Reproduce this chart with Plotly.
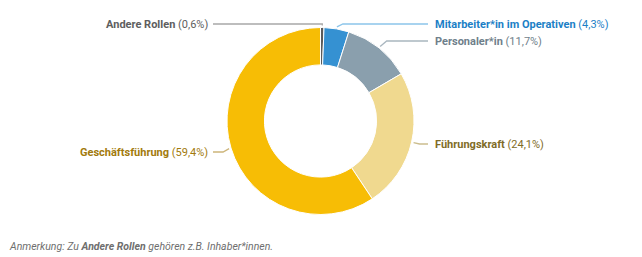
import math
import plotly.graph_objects as go

# ---- data ----
labels = ["Andere Rollen", "Mitarbeiter*in im Operativen", "Personaler*in", "Führungskraft", "Geschäftsführung"]
values = [0.6, 4.3, 11.7, 24.1, 59.4]
value_text = ["0,6%", "4,3%", "11,7%", "24,1%", "59,4%"]

# ---- styles ----
slice_colors = ["#5a5a5a", "#3591d2", "#8a9fad", "#f0d98f", "#f7bd05"]
label_colors = ["#5e5e5e", "#1c7fc6", "#6f7f8b", "#7f6c28", "#a27a0c"]
line_colors = ["#a8a8a8", "#8cc5ea", "#a9b6bf", "#cbbd8e", "#cdb57a"]
label_y_px = [24, 24, 41, 144, 152]   # label baseline-centre rows (pixels)
label_side = ["left", "right", "right", "right", "left"]

W, H = 642, 257
cx, cy, R = 320.5, 121.0, 93.5
label_x_right = 433
label_x_left_end = 210

def px(x):
    return x / W

def py(y):
    return 1 - y / H

fig = go.Figure()
fig.add_trace(go.Pie(
    labels=labels, values=values, hole=0.6, sort=False, direction="clockwise",
    rotation=0, marker=dict(colors=slice_colors, line=dict(color="white", width=1)),
    textinfo="none", hoverinfo="label+percent", showlegend=False,
    domain=dict(x=[px(cx - R), px(cx + R)], y=[py(cy + R), py(cy - R)]),
))

total = sum(values)
cum = 0.0
shapes = []
annotations = []
for i, v in enumerate(values):
    mid = (cum + v / 2) / total * 2 * math.pi
    cum += v
    r0 = R + 2
    sx = cx + r0 * math.sin(mid)
    sy = cy - r0 * math.cos(mid)
    ly = label_y_px[i]
    if label_side[i] == "right":
        ex = sx + max(6, abs(ly - sy) * 1.2) if abs(ly - sy) > 2 else sx + 6
        ex = min(ex, label_x_right - 8)
        endx = label_x_right - 5
    else:
        ex = sx - 6 if abs(ly - sy) > 2 else sx - 4
        if i == 0:
            ex = sx
        endx = label_x_left_end + 3
    path = f"M {px(sx)},{py(sy)} L {px(ex)},{py(ly)} L {px(endx)},{py(ly)}"
    shapes.append(dict(type="path", path=path, xref="paper", yref="paper",
                       line=dict(color=line_colors[i], width=1.3)))
    text = f"<b>{labels[i]}</b> ({value_text[i]})"
    if label_side[i] == "right":
        annotations.append(dict(x=px(label_x_right), y=py(ly), xref="paper", yref="paper",
                                text=text, showarrow=False, xanchor="left", yanchor="middle",
                                font=dict(family="Roboto", size=11, color=label_colors[i])))
    else:
        annotations.append(dict(x=px(label_x_left_end), y=py(ly), xref="paper", yref="paper",
                                text=text, showarrow=False, xanchor="right", yanchor="middle",
                                font=dict(family="Roboto", size=11, color=label_colors[i])))

annotations.append(dict(x=px(7), y=py(246), xref="paper", yref="paper",
                        text="<i>Anmerkung: Zu <b>Andere Rollen</b> gehören z.B. Inhaber*innen.</i>",
                        showarrow=False, xanchor="left", yanchor="middle",
                        font=dict(family="Roboto", size=10.5, color="#6e6e6e")))

fig.update_layout(
    width=W, height=H, margin=dict(l=0, r=0, t=0, b=0),
    paper_bgcolor="white", plot_bgcolor="white",
    shapes=shapes, annotations=annotations,
)

fig.write_html("out.html")
